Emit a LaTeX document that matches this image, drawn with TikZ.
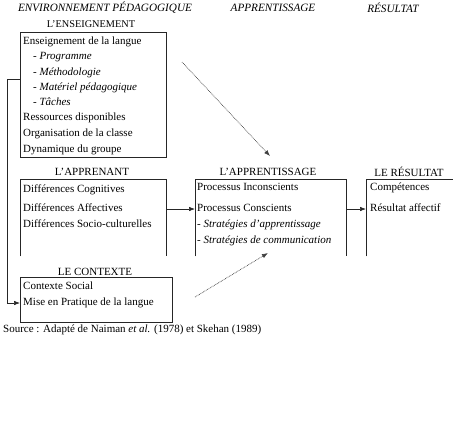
\documentclass[tikz,border=0pt]{standalone}
\usepackage{fontspec}
\setmainfont{Liberation Serif}
\usetikzlibrary{arrows.meta}
\begin{document}
\begin{tikzpicture}[x=1pt,y=-1pt,
  txt/.style={anchor=west,inner sep=0pt,font=\fontsize{11}{12}\selectfont,text height=7.5pt,text depth=2.5pt},
  hdr/.style={inner sep=0pt,font=\fontsize{11}{12}\selectfont},
  top/.style={inner sep=0pt,font=\fontsize{11.2}{12}\selectfont\itshape},
  frame/.style={inner sep=0pt,anchor=north west},
  ln/.style={line width=0.6pt,black!85},
  arr/.style={ln,-{Latex[length=6pt,width=4.5pt]}},
  dotarr/.style={line width=0.7pt,black!75,dash pattern=on 0.7pt off 0.9pt,-{Latex[length=6pt,width=4.5pt]}}]
\useasboundingbox (0,0) rectangle (453,432);
% column titles
\node[top] (t1) at (105,8) {ENVIRONNEMENT PÉDAGOGIQUE};
\node[top] (t2) at (273,8) {APPRENTISSAGE};
\node[top] (t3) at (393,8) {RÉSULTAT};
% box 1
\node[hdr,font=\fontsize{10.3}{12}\selectfont] (h1) at (91,24) {L’ENSEIGNEMENT};
\node[frame,minimum width=146pt,minimum height=125pt] (ens) at (20,32) {};
\draw[ln] (ens.north west) rectangle (ens.south east);
\node[txt] (e1) at (23,42) {Enseignement de la langue};
\node[txt] (e2) at (33,57) {- \textit{Programme}};
\node[txt] (e3) at (33,73) {- \textit{Méthodologie}};
\node[txt] (e4) at (33,88) {- \textit{Matériel pédagogique}};
\node[txt] (e5) at (33,103) {- \textit{Tâches}};
\node[txt] (e6) at (23,118) {Ressources disponibles};
\node[txt] (e7) at (23,134) {Organisation de la classe};
\node[txt] (e8) at (23,150) {Dynamique du groupe};
% box 2
\node[hdr] (h2) at (92,172) {L’APPRENANT};
\node[frame,minimum width=146pt,minimum height=77pt] (app) at (20,179) {};
\draw[ln] (app.south west) |- (app.north east) -- (app.south east);
\node[txt] (a1) at (23,190) {Différences Cognitives};
\node[txt] (a2) at (23,209) {Différences Affectives};
\node[txt] (a3) at (23,225) {Différences Socio-culturelles};
% box 3
\node[hdr] (h3) at (268,172) {L’APPRENTISSAGE};
\node[frame,minimum width=151pt,minimum height=77pt] (apr) at (195,179) {};
\draw[ln] (apr.south west) |- (apr.north east) -- (apr.south east);
\node[txt] (p1) at (197,188) {Processus Inconscients};
\node[txt] (p2) at (197,209) {Processus Conscients};
\node[txt] (p3) at (197,225) {- \textit{Stratégies d’apprentissage}};
\node[txt] (p4) at (197,241) {- \textit{Stratégies de communication}};
% box 4
\node[hdr] (h4) at (409,172) {LE RÉSULTAT};
\node[frame,minimum width=87pt,minimum height=77pt] (res) at (366,179) {};
\draw[ln] (res.south west) |- (res.north east);
\node[txt] (r1) at (370,188) {Compétences};
\node[txt] (r2) at (370,209) {Résultat affectif};
% box 5
\node[hdr] (h5) at (95,272) {LE CONTEXTE};
\node[frame,minimum width=152pt,minimum height=45pt] (ctx) at (20,277) {};
\draw[ln] (ctx.north west) rectangle (ctx.south east);
\node[txt] (c1) at (23,287) {Contexte Social};
\node[txt] (c2) at (23,303) {Mise en Pratique de la langue};
% source
\node[txt] (src) at (3,330) {Source : Adapté de Naiman \textit{et al.} (1978) et Skehan (1989)};
% connectors
\coordinate (lk) at (20,79);
\coordinate (lc) at (7,79);
\draw[arr] (lk) -- (lc) |- (ctx.west |- c2.west);
\draw[arr] (app.east |- a2.west) -- (apr.west |- a2.west);
\draw[arr] (apr.east |- a2.west) -- (res.west |- a2.west);
\coordinate (d1s) at (182,62);
\coordinate (d1e) at (270,156);
\draw[dotarr] (d1s) -- (d1e);
\coordinate (d2s) at (195,297);
\coordinate (d2e) at (268,253);
\draw[dotarr] (d2s) -- (d2e);
\end{tikzpicture}
\end{document}
